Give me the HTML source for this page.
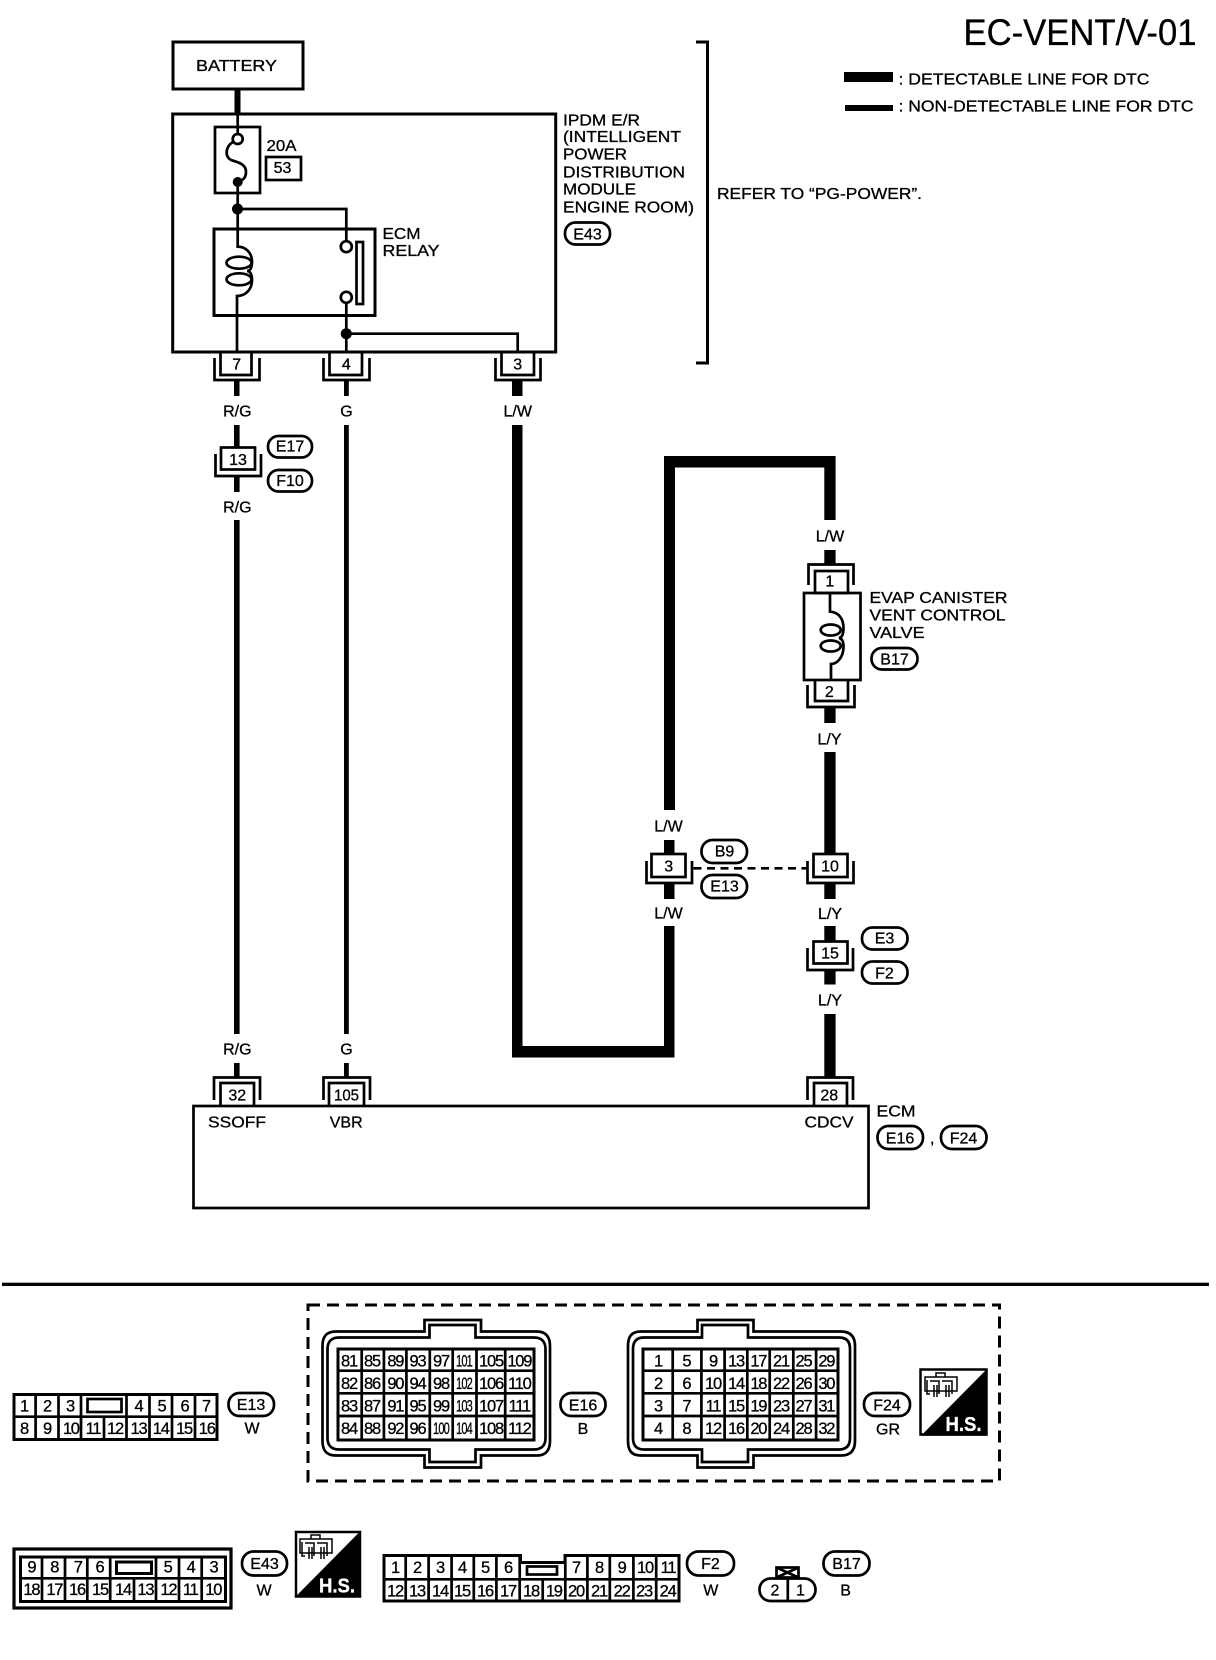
<!DOCTYPE html>
<html><head><meta charset="utf-8"><title>EC-VENT/V-01</title>
<style>
html,body{margin:0;padding:0;background:#fff}
svg{display:block}
text{font-family:"Liberation Sans",sans-serif;font-size:16px;fill:#000;stroke:#000;stroke-width:.3px}
.m{text-anchor:middle}
.d text,text.d{text-anchor:middle;font-size:16.5px;letter-spacing:-1.2px}
</style></head><body>
<svg xmlns="http://www.w3.org/2000/svg" width="1216" height="1660" viewBox="0 0 1216 1660">
<rect width="1216" height="1660" fill="#fff"/>

<!-- title and legend -->
<text x="963.5" y="45" style="font-size:37px" textLength="233" lengthAdjust="spacingAndGlyphs">EC-VENT/V-01</text>
<rect x="844" y="72" width="49" height="10"/>
<rect x="845" y="105" width="48" height="6"/>
<text x="898.5" y="84.5" textLength="251" lengthAdjust="spacingAndGlyphs">: DETECTABLE LINE FOR DTC</text>
<text x="898.5" y="111.5" textLength="295" lengthAdjust="spacingAndGlyphs">: NON-DETECTABLE LINE FOR DTC</text>

<!-- thick and medium wires -->
<g fill="#000">
<rect x="234.5" y="89" width="6" height="25"/>
<rect x="234" y="381" width="5.5" height="15"/>
<rect x="234" y="425" width="5.6" height="25"/>
<rect x="234" y="476" width="5.6" height="16"/>
<rect x="234" y="520" width="5.6" height="514"/>
<rect x="234" y="1063" width="5.6" height="15"/>
<rect x="344" y="381" width="4.8" height="15"/>
<rect x="344" y="425" width="4.8" height="609"/>
<rect x="344" y="1063" width="4.8" height="15"/>
<rect x="512" y="381" width="10.5" height="15"/>
<rect x="512" y="425" width="10.5" height="632.5"/>
<rect x="512" y="1046" width="162.5" height="11.5"/>
<rect x="664" y="926" width="10.5" height="131"/>
<rect x="664" y="883" width="10.5" height="16"/>
<rect x="664" y="840" width="10.5" height="14"/>
<rect x="664" y="456" width="11" height="354"/>
<rect x="664" y="456" width="171.5" height="11.5"/>
<rect x="824.3" y="456" width="11.3" height="64"/>
<rect x="824.3" y="550" width="11.3" height="14"/>
<rect x="824.3" y="707" width="11.3" height="16"/>
<rect x="824.3" y="752" width="11.3" height="102"/>
<rect x="824.3" y="883" width="11.3" height="16"/>
<rect x="824.3" y="926" width="11.3" height="15"/>
<rect x="824.3" y="970" width="11.3" height="14.5"/>
<rect x="824.3" y="1014" width="11.3" height="64"/>
</g>

<g fill="none" stroke="#000" stroke-width="2.7">
<!-- boxes -->
<rect x="173" y="42" width="130" height="47" stroke-width="3"/>
<rect x="172.7" y="114" width="383" height="238" stroke-width="3"/>
<rect x="215" y="127" width="45" height="66"/>
<rect x="266" y="157" width="35" height="23"/>
<rect x="214" y="229" width="161" height="86.5" stroke-width="3"/>
<rect x="356.5" y="242" width="6.5" height="62"/>
<rect x="193.5" y="1106" width="675" height="102"/>
<!-- IPDM internals -->
<path d="M237.7 114V134"/>
<circle cx="237.7" cy="139" r="5" fill="#fff"/>
<path d="M233 142C226 146 224 156 231 160C236 162 246 163 246 172C246 178 243 180 238 182"/>
<path d="M237.7 182V246.7C246 246.7 252 253 252 262C252 268 250 271 247 271C250 271 252 274 252 280C252 289 246 296 237 296V352"/>
<ellipse cx="239" cy="262.7" rx="12.5" ry="6"/>
<ellipse cx="239" cy="279.3" rx="12.5" ry="6"/>
<path d="M237.7 209H346.3V241"/>
<circle cx="346.3" cy="246.7" r="5.5" fill="#fff"/>
<circle cx="346.3" cy="297.3" r="5.5" fill="#fff"/>
<path d="M346.3 303V352M346.3 333.7H517.7V352"/>
<!-- right bracket -->
<path d="M696 42H707.5V363H696" stroke-width="3"/>
<!-- connectors on IPDM -->
<path d="M220.5 352V375H251.5V352M214.5 358V380H259.5V358"/>
<path d="M329.5 352V375H362V352M323.5 358V380H369.5V358"/>
<path d="M501.5 352V375H534V352M495.5 358V380H540.5V358"/>
<!-- connector 13 -->
<rect x="221" y="447.5" width="34" height="22" fill="#fff"/>
<path d="M215.5 454V476H261V454"/>
<!-- valve -->
<path d="M808.5 585V564.5H853.5V585"/>
<rect x="815" y="571" width="33" height="22" fill="#fff"/>
<rect x="804" y="593" width="56.5" height="87"/>
<path d="M830 593V611.7C838 612 843.5 618 843.5 628C843.5 634 842 637.5 839 638C842 638.5 843.5 642 843.5 647C843.5 656 838 664 831 664V680"/>
<ellipse cx="830.7" cy="630" rx="10" ry="5.5"/>
<ellipse cx="830.7" cy="646" rx="10" ry="5.5"/>
<path d="M815 680V701H848V680M807.5 685V707H854.5V685"/>
<!-- connector 3 / 10 / 15 -->
<rect x="651.5" y="854" width="34" height="23" fill="#fff"/>
<path d="M646.5 861V883H692V861"/>
<rect x="813.5" y="854" width="34" height="23" fill="#fff"/>
<path d="M807.5 861V883H853.5V861"/>
<rect x="813.5" y="941.5" width="34" height="22" fill="#fff"/>
<path d="M807.5 948V970H853V948"/>
<!-- connectors on ECM -->
<path d="M214 1100V1077.5H260V1100M220.5 1106V1083H254V1106"/>
<path d="M323.5 1100V1077.5H370V1100M329 1106V1083H364V1106"/>
<path d="M807.5 1100V1077.5H853V1100M814 1106V1083H847V1106"/>
<!-- dashed shield -->
<path d="M693.5 868.3H807" stroke-dasharray="8 5.5"/>
</g>
<circle cx="237.7" cy="182" r="5"/>
<circle cx="237.5" cy="209" r="5.5"/>
<circle cx="346.3" cy="333.7" r="5.5"/>

<!-- pills -->
<g fill="#fff" stroke="#000" stroke-width="2.7">
<rect x="565" y="222.5" width="45" height="22" rx="10.5"/>
<rect x="268" y="436" width="44" height="21.5" rx="10.5"/>
<rect x="268" y="470" width="44" height="21.5" rx="10.5"/>
<rect x="871.5" y="648" width="46" height="21.5" rx="10.5"/>
<rect x="701.5" y="840" width="45.5" height="23" rx="11"/>
<rect x="701.5" y="875" width="45.5" height="23" rx="11"/>
<rect x="862" y="927.5" width="45.5" height="22" rx="10.5"/>
<rect x="862" y="961.5" width="45.5" height="22" rx="10.5"/>
<rect x="877.5" y="1126" width="45.5" height="23" rx="11"/>
<rect x="941" y="1126" width="45.5" height="23" rx="11"/>
<rect x="228.5" y="1393" width="45.5" height="23" rx="11"/>
<rect x="560.5" y="1393" width="45" height="23" rx="11"/>
<rect x="864" y="1393" width="46" height="23" rx="11"/>
<rect x="242" y="1551.5" width="45" height="24" rx="11.5"/>
<rect x="687" y="1551.5" width="47" height="24" rx="11.5"/>
<rect x="823.5" y="1551.5" width="46" height="24" rx="11.5"/>
</g>

<!-- diagram labels -->
<text class="m" x="236.5" y="71" textLength="81" lengthAdjust="spacingAndGlyphs">BATTERY</text>
<text x="266.5" y="151" textLength="30" lengthAdjust="spacingAndGlyphs">20A</text>
<text class="m" x="282.5" y="173">53</text>
<text x="382.5" y="239" textLength="38" lengthAdjust="spacingAndGlyphs">ECM</text>
<text x="382.5" y="256" textLength="57" lengthAdjust="spacingAndGlyphs">RELAY</text>
<text x="563" y="125.5" textLength="77" lengthAdjust="spacingAndGlyphs">IPDM E/R</text>
<text x="563" y="142" textLength="118" lengthAdjust="spacingAndGlyphs">(INTELLIGENT</text>
<text x="563" y="159.5" textLength="64" lengthAdjust="spacingAndGlyphs">POWER</text>
<text x="563" y="177.5" textLength="122" lengthAdjust="spacingAndGlyphs">DISTRIBUTION</text>
<text x="563" y="194.5" textLength="73" lengthAdjust="spacingAndGlyphs">MODULE</text>
<text x="563" y="212.5" textLength="131" lengthAdjust="spacingAndGlyphs">ENGINE ROOM)</text>
<text class="m" x="587.5" y="239.5">E43</text>
<text x="717" y="199" textLength="205" lengthAdjust="spacingAndGlyphs">REFER TO “PG-POWER”.</text>
<text class="m" x="236.7" y="369.5">7</text>
<text class="m" x="346.3" y="369.5">4</text>
<text class="m" x="517.7" y="369.5">3</text>
<text class="m" x="237.3" y="416.7">R/G</text>
<text class="m" x="346.5" y="416.7">G</text>
<text class="m" x="517.7" y="416.7">L/W</text>
<text class="m" x="238" y="465">13</text>
<text class="m" x="290" y="451.5">E17</text>
<text class="m" x="290" y="486">F10</text>
<text class="m" x="237.3" y="512.5">R/G</text>
<text class="m" x="830" y="541.7">L/W</text>
<text class="m" x="829.8" y="586.5">1</text>
<text x="869.5" y="603" textLength="138" lengthAdjust="spacingAndGlyphs">EVAP CANISTER</text>
<text x="869.5" y="620.5" textLength="136" lengthAdjust="spacingAndGlyphs">VENT CONTROL</text>
<text x="869.5" y="638" textLength="55" lengthAdjust="spacingAndGlyphs">VALVE</text>
<text class="m" x="894.5" y="664.5">B17</text>
<text class="m" x="829.3" y="697">2</text>
<text class="m" x="829.5" y="744.7">L/Y</text>
<text class="m" x="668.5" y="831.7">L/W</text>
<text class="m" x="668.7" y="871.6">3</text>
<text class="m" x="724.5" y="856.5">B9</text>
<text class="m" x="724.5" y="891.5">E13</text>
<text class="m" x="830" y="871.6">10</text>
<text class="m" x="668.5" y="918.5">L/W</text>
<text class="m" x="830" y="919">L/Y</text>
<text class="m" x="830" y="958.3">15</text>
<text class="m" x="884.5" y="943.7">E3</text>
<text class="m" x="884.5" y="978.3">F2</text>
<text class="m" x="830" y="1005.7">L/Y</text>
<text class="m" x="237.3" y="1054.5">R/G</text>
<text class="m" x="346.5" y="1054.5">G</text>
<text class="m" x="237.3" y="1100.4">32</text>
<text class="m" x="346.5" y="1100.4" textLength="25" lengthAdjust="spacingAndGlyphs">105</text>
<text class="m" x="829.3" y="1100.6">28</text>
<text class="m" x="237" y="1127.7" textLength="58" lengthAdjust="spacingAndGlyphs">SSOFF</text>
<text class="m" x="346.2" y="1127.7">VBR</text>
<text class="m" x="829" y="1127.7" textLength="49" lengthAdjust="spacingAndGlyphs">CDCV</text>
<text x="876.5" y="1116.7" textLength="39" lengthAdjust="spacingAndGlyphs">ECM</text>
<text class="m" x="900" y="1143.5">E16</text>
<text x="930" y="1143.5">,</text>
<text class="m" x="963.5" y="1143.5">F24</text>

<!-- bottom separator and dashed frame -->
<rect x="2" y="1282.7" width="1207" height="3.3"/>
<rect x="308" y="1305" width="691.5" height="176" fill="none" stroke="#000" stroke-width="3" stroke-dasharray="12 7"/>

<!-- E13 connector -->
<g fill="none" stroke="#000" stroke-width="2.7">
<rect x="14" y="1394.5" width="203" height="45" stroke-width="3"/>
<path d="M14 1416.7H217M35.6 1394.5V1439.5M58.5 1394.5V1439.5M81 1394.5V1439.5M104 1416.7V1439.5M126.5 1394.5V1439.5M149.5 1394.5V1439.5M172 1394.5V1439.5M195 1394.5V1439.5"/>
<rect x="87.5" y="1399" width="34" height="13"/>
</g>
<g class="d">
<text x="24" y="1411.5">1</text><text x="47" y="1411.5">2</text><text x="70" y="1411.5">3</text><text x="138.5" y="1411.5">4</text><text x="161.5" y="1411.5">5</text><text x="184.5" y="1411.5">6</text><text x="206" y="1411.5">7</text>
<text x="24" y="1433.8">8</text><text x="47" y="1433.8">9</text><text x="70.8" y="1433.8">10</text><text x="93" y="1433.8">11</text><text x="115" y="1433.8">12</text><text x="138.5" y="1433.8">13</text><text x="160.7" y="1433.8">14</text><text x="184" y="1433.8">15</text><text x="206.7" y="1433.8">16</text>
</g>
<text class="m" x="251" y="1410">E13</text>
<text class="m" x="252" y="1433.5">W</text>

<!-- E16 connector -->
<g fill="none" stroke="#000" stroke-width="2.7">
<path d="M336 1331.5H424.5V1320H481V1331.5H537C546 1331.5 550 1337 550 1346V1441C550 1450 546 1455.5 537 1455.5H481V1467.5H424.5V1455.5H336C326 1455.5 322.5 1450 322.5 1441V1346C322.5 1337 326 1331.5 336 1331.5Z"/>
<path d="M339 1337.5H429.5V1325H475.5V1337.5H534C542 1337.5 545.5 1342 545.5 1349V1438C545.5 1445 542 1449.5 534 1449.5H475.5V1462H429.5V1449.5H339C331 1449.5 327.5 1445 327.5 1438V1349C327.5 1342 331 1337.5 339 1337.5Z"/>
<rect x="338" y="1349" width="196" height="91" stroke-width="3"/>
<path d="M338 1370.7H534M338 1393.3H534M338 1416H534M361.7 1349V1440M383.9 1349V1440M406.4 1349V1440M429.8 1349V1440M452.7 1349V1440M476.5 1349V1440M505.2 1349V1440"/>
</g>
<g class="d">
<text x="349" y="1366.5">81</text><text x="372" y="1366.5">85</text><text x="395.3" y="1366.5">89</text><text x="417.5" y="1366.5">93</text><text x="441" y="1366.5">97</text><text x="464" y="1366.5" textLength="16" lengthAdjust="spacingAndGlyphs">101</text><text x="491" y="1366.5">105</text><text x="519.3" y="1366.5">109</text>
<text x="349" y="1389">82</text><text x="372" y="1389">86</text><text x="395.3" y="1389">90</text><text x="417.5" y="1389">94</text><text x="441" y="1389">98</text><text x="464" y="1389" textLength="16" lengthAdjust="spacingAndGlyphs">102</text><text x="491" y="1389">106</text><text x="519.3" y="1389">110</text>
<text x="349" y="1411.3">83</text><text x="372" y="1411.3">87</text><text x="395.3" y="1411.3">91</text><text x="417.5" y="1411.3">95</text><text x="441" y="1411.3">99</text><text x="464" y="1411.3" textLength="16" lengthAdjust="spacingAndGlyphs">103</text><text x="491" y="1411.3">107</text><text x="519.3" y="1411.3">111</text>
<text x="349" y="1433.8">84</text><text x="372" y="1433.8">88</text><text x="395.3" y="1433.8">92</text><text x="417.5" y="1433.8">96</text><text x="441" y="1433.8" textLength="16" lengthAdjust="spacingAndGlyphs">100</text><text x="464" y="1433.8" textLength="16" lengthAdjust="spacingAndGlyphs">104</text><text x="491" y="1433.8">108</text><text x="519.3" y="1433.8">112</text>
</g>
<text class="m" x="583" y="1410.5">E16</text>
<text class="m" x="583" y="1434">B</text>

<!-- F24 connector -->
<g fill="none" stroke="#000" stroke-width="2.7">
<path d="M641 1331.5H697.5V1320H753.5V1331.5H841C851 1331.5 855 1337 855 1346V1441C855 1450 851 1455.5 841 1455.5H753.5V1467.5H697.5V1455.5H641C631 1455.5 628 1450 628 1441V1346C628 1337 631 1331.5 641 1331.5Z"/>
<path d="M644 1337.5H702V1325H748V1337.5H839C847 1337.5 850 1342 850 1349V1438C850 1445 847 1449.5 839 1449.5H748V1462H702V1449.5H644C636 1449.5 633 1445 633 1438V1349C633 1342 636 1337.5 644 1337.5Z"/>
<rect x="643" y="1349" width="195" height="91" stroke-width="3"/>
<path d="M643 1370.7H838M643 1393.3H838M643 1416H838M672.7 1349V1440M701.4 1349V1440M724.6 1349V1440M747.3 1349V1440M769.7 1349V1440M793.3 1349V1440M816.1 1349V1440"/>
</g>
<g class="d">
<text x="658" y="1366.5">1</text><text x="686.4" y="1366.5">5</text><text x="713" y="1366.5">9</text><text x="736" y="1366.5">13</text><text x="758.3" y="1366.5">17</text><text x="781" y="1366.5">21</text><text x="803.5" y="1366.5">25</text><text x="826.3" y="1366.5">29</text>
<text x="658" y="1389">2</text><text x="686.4" y="1389">6</text><text x="713" y="1389">10</text><text x="736" y="1389">14</text><text x="758.3" y="1389">18</text><text x="781" y="1389">22</text><text x="803.5" y="1389">26</text><text x="826.3" y="1389">30</text>
<text x="658" y="1411.3">3</text><text x="686.4" y="1411.3">7</text><text x="713" y="1411.3">11</text><text x="736" y="1411.3">15</text><text x="758.3" y="1411.3">19</text><text x="781" y="1411.3">23</text><text x="803.5" y="1411.3">27</text><text x="826.3" y="1411.3">31</text>
<text x="658" y="1433.8">4</text><text x="686.4" y="1433.8">8</text><text x="713" y="1433.8">12</text><text x="736" y="1433.8">16</text><text x="758.3" y="1433.8">20</text><text x="781" y="1433.8">24</text><text x="803.5" y="1433.8">28</text><text x="826.3" y="1433.8">32</text>
</g>
<text class="m" x="887" y="1410.5">F24</text>
<text class="m" x="888" y="1434.5">GR</text>

<!-- H.S. icon 1 -->
<rect x="920.5" y="1369.5" width="66" height="65" fill="#fff" stroke="#000" stroke-width="2.5"/>
<path d="M987 1369L921 1435.7H987Z"/>
<path d="M925 1377H957V1391H925ZM927 1380V1394H930M930 1381H939V1394M942 1381H952V1394M934 1385V1397M937 1385V1397M946 1385V1397M949 1385V1397M936 1377V1373H945V1377" fill="none" stroke="#000" stroke-width="1.5"/>
<text x="945.5" y="1431" style="fill:#fff;stroke:#fff;font-size:20px;font-weight:bold" textLength="36" lengthAdjust="spacingAndGlyphs">H.S.</text>

<!-- E43 connector -->
<g fill="none" stroke="#000" stroke-width="2.7">
<rect x="14" y="1549" width="217" height="59" stroke-width="3.2"/>
<rect x="20.5" y="1557" width="205" height="44.5" stroke-width="3"/>
<path d="M20.5 1578.3H225.5M42 1557V1601.5M65 1557V1601.5M87.3 1557V1601.5M110.2 1557V1601.5M134 1578.3V1601.5M156 1557V1601.5M179 1557V1601.5M201.7 1557V1601.5"/>
<rect x="116.5" y="1562" width="35" height="11.5" stroke-width="3"/>
</g>
<g class="d">
<text x="31.4" y="1572.3">9</text><text x="54.3" y="1572.3">8</text><text x="77.7" y="1572.3">7</text><text x="99.5" y="1572.3">6</text><text x="167.6" y="1572.3">5</text><text x="190.6" y="1572.3">4</text><text x="213.5" y="1572.3">3</text>
<text x="31.4" y="1595">18</text><text x="54.3" y="1595">17</text><text x="77" y="1595">16</text><text x="100" y="1595">15</text><text x="123" y="1595">14</text><text x="145.4" y="1595">13</text><text x="168.4" y="1595">12</text><text x="190.2" y="1595">11</text><text x="213.2" y="1595">10</text>
</g>
<text class="m" x="264.5" y="1569">E43</text>
<text class="m" x="264" y="1595.5">W</text>

<!-- H.S. icon 2 -->
<rect x="296" y="1532" width="64" height="64.5" fill="#fff" stroke="#000" stroke-width="2.5"/>
<path d="M360.5 1531L295 1597.3H360.5Z"/>
<path d="M300 1539H332V1553H300ZM302 1542V1556H305M305 1543H314V1556M317 1543H327V1556M309 1547V1559M312 1547V1559M321 1547V1559M324 1547V1559M311 1539V1535H320V1539" fill="none" stroke="#000" stroke-width="1.5"/>
<text x="319" y="1592.5" style="fill:#fff;stroke:#fff;font-size:20px;font-weight:bold" textLength="36" lengthAdjust="spacingAndGlyphs">H.S.</text>

<!-- F2 connector -->
<g fill="none" stroke="#000" stroke-width="2.7">
<path d="M384 1555.5H520.5V1562.5H565V1555.5H679V1601H384Z" stroke-width="3"/>
<path d="M384 1579.3H679M405.7 1555.5V1601M428.6 1555.5V1601M451.6 1555.5V1601M473.8 1555.5V1601M496.4 1555.5V1601M519.7 1555.5V1601M542.7 1579.3V1601M565.3 1555.5V1601M587.4 1555.5V1601M609.8 1555.5V1601M633.4 1555.5V1601M656.2 1555.5V1601"/>
<rect x="527" y="1566.5" width="30" height="8" stroke-width="2.7"/>
</g>
<g class="d">
<text x="395" y="1573">1</text><text x="417" y="1573">2</text><text x="440" y="1573">3</text><text x="462" y="1573">4</text><text x="485" y="1573">5</text><text x="508" y="1573">6</text><text x="576" y="1573">7</text><text x="599" y="1573">8</text><text x="621.6" y="1573">9</text><text x="645" y="1573">10</text><text x="668" y="1573">11</text>
<text x="395" y="1596.3">12</text><text x="417" y="1596.3">13</text><text x="440" y="1596.3">14</text><text x="462" y="1596.3">15</text><text x="485" y="1596.3">16</text><text x="508" y="1596.3">17</text><text x="531" y="1596.3">18</text><text x="553.8" y="1596.3">19</text><text x="576" y="1596.3">20</text><text x="599" y="1596.3">21</text><text x="621.6" y="1596.3">22</text><text x="644" y="1596.3">23</text><text x="667.6" y="1596.3">24</text>
</g>
<text class="m" x="710.5" y="1569">F2</text>
<text class="m" x="710.8" y="1595.5">W</text>

<!-- B17 connector -->
<g fill="none" stroke="#000" stroke-width="2.7">
<rect x="759.5" y="1578.5" width="56" height="22.5" rx="11"/>
<path d="M787.8 1578.5V1601"/>
<rect x="776.5" y="1567.5" width="22" height="10"/>
<path d="M776.5 1567.5L798.5 1577.5M798.5 1567.5L776.5 1577.5"/>
</g>
<text class="m" x="775" y="1595.7">2</text>
<text class="m" x="800.4" y="1595.7">1</text>
<text class="m" x="846.5" y="1569">B17</text>
<text class="m" x="845.6" y="1595.7">B</text>
</svg>
</body></html>
